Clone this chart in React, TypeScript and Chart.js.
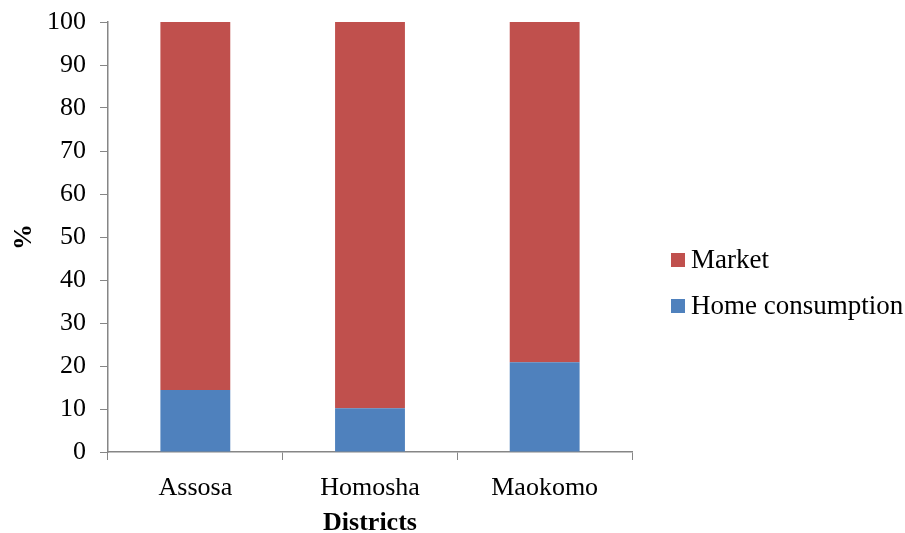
import React, { useEffect, useRef } from "react";
import { Chart, registerables } from "chart.js";

Chart.register(...registerables);

const categories = ["Assosa", "Homosha", "Maokomo"];
const homeConsumption = [14.4, 10.2, 20.9];
const market = [85.6, 89.8, 79.1];
const yTicks = [0, 10, 20, 30, 40, 50, 60, 70, 80, 90, 100];

const RED = "#C0504D";
const BLUE = "#4F81BD";
const AXIS = "#868686";
const FONT = "'Liberation Serif', 'Times New Roman', serif";

export default function App() {
  const ref = useRef<HTMLCanvasElement>(null);
  useEffect(() => {
    if (!ref.current) return;
    const chart = new Chart(ref.current, {
      type: "bar",
      data: {
        labels: categories,
        datasets: [
          { label: "Home consumption", data: homeConsumption, backgroundColor: BLUE, borderWidth: 0 },
          { label: "Market", data: market, backgroundColor: RED, borderWidth: 0 },
        ],
      },
      options: {
        animation: false,
        responsive: false,
        layout: { padding: { left: 0, right: 273, top: 22, bottom: 0 } },
        plugins: { legend: { display: false }, tooltip: { enabled: false } },
        datasets: { bar: { barPercentage: 0.8, categoryPercentage: 0.5 } },
        scales: {
          x: {
            stacked: true,
            grid: { display: true, drawOnChartArea: false, drawTicks: true, tickLength: 8, color: AXIS, offset: true },
            border: { display: true, color: AXIS, width: 1.5 },
            ticks: { color: "#000", font: { family: FONT, size: 26 }, padding: 13 },
            title: { display: true, text: "Districts", color: "#000", font: { family: FONT, size: 26, weight: "bold" }, padding: { top: 2, bottom: -6 } },
            afterFit: (s: any) => { s.height = 81; s.paddingLeft = 0; s.paddingRight = 0; },
          },
          y: {
            stacked: true,
            min: 0,
            max: 100,
            afterBuildTicks: (s: any) => { s.ticks = yTicks.map((v) => ({ value: v })); },
            grid: { display: true, drawOnChartArea: false, drawTicks: true, tickLength: 8, color: AXIS },
            border: { display: true, color: AXIS, width: 1.5 },
            ticks: { color: "#000", font: { family: FONT, size: 26 }, padding: 14 },
            title: { display: true, text: "%", color: "#000", font: { family: FONT, size: 26, weight: "bold" }, padding: { top: 9, bottom: 0 } },
            afterFit: (s: any) => { s.width = 108; s.paddingTop = 0; s.paddingBottom = 0; },
          },
        },
      },
    });
    return () => chart.destroy();
  }, []);

  const legendItem = (color: string, text: string, top: number) => (
    <div style={{ position: "absolute", left: 671, top, display: "flex", alignItems: "center", fontFamily: FONT, fontSize: 27, color: "#000", whiteSpace: "nowrap" }}>
      <span style={{ display: "inline-block", width: 14, height: 14, background: color, marginRight: 6 }} />
      <span>{text}</span>
    </div>
  );

  return (
    <div style={{ position: "fixed", left: 0, top: 0, width: 905, height: 533, background: "#fff" }}>
      <canvas ref={ref} width={905} height={533} style={{ display: "block" }} />
      {legendItem(RED, "Market", 244)}
      {legendItem(BLUE, "Home consumption", 290)}
    </div>
  );
}
